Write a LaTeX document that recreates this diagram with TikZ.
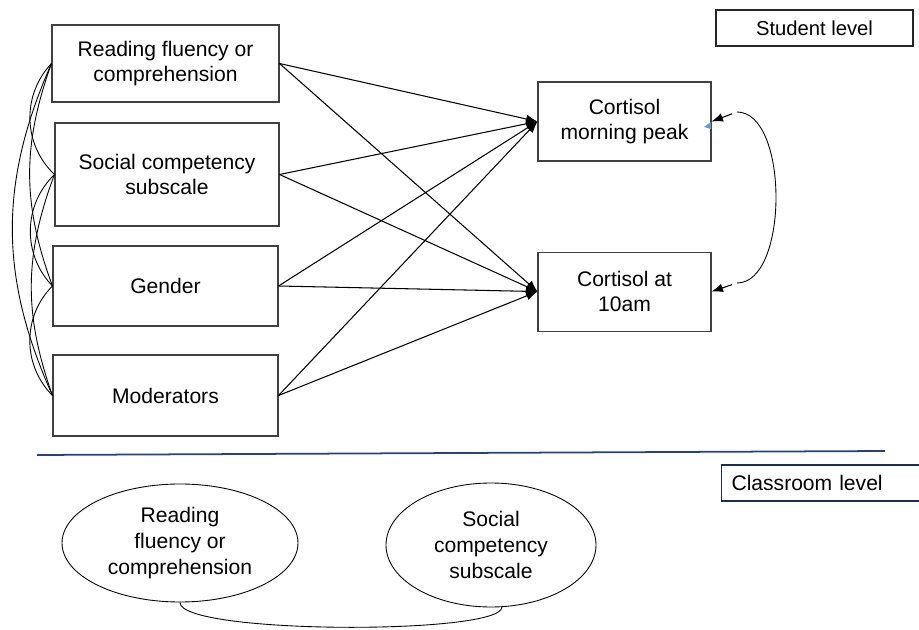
\documentclass[tikz,border=0pt]{standalone}
\usepackage{fontspec}
\setmainfont{Liberation Sans}
\usetikzlibrary{arrows.meta, shapes.geometric, positioning}

\begin{document}
\begin{tikzpicture}[>={Latex[length=6.5pt,width=5pt]}]

\definecolor{levelblue}{RGB}{38, 64, 128}
\definecolor{tickblue}{RGB}{91, 155, 213}

\useasboundingbox (0,0) rectangle (18.38,12.58);

\tikzset{
    measured/.style={
        draw=black!75, line width=0.6pt, rectangle, inner sep=2pt,
        align=center, font=\fontsize{12}{14.6}\selectfont
    },
    latent/.style={
        draw=black, line width=0.5pt, ellipse, inner sep=0pt,
        align=center, font=\fontsize{12}{14.8}\selectfont
    },
    levelbox/.style={
        draw=black!85, line width=0.6pt, rectangle,
        minimum height=0.72cm, font=\fontsize{11.5}{13}\selectfont
    },
    effect/.style={
        draw=black, line width=0.6pt, ->
    },
    covar/.style={
        draw=black, line width=0.5pt
    }
}

% --- STUDENT LEVEL ---
\node[levelbox, minimum width=3.94cm] (Student) at (16.29, 12.02) {Student level};

% Predictors (left column)
\node[measured, minimum width=4.54cm, minimum height=1.54cm] (Read) at (3.31, 11.31) {Reading fluency or\\comprehension};
\node[measured, minimum width=4.48cm, minimum height=2.06cm] (Social) at (3.34, 9.09) {Social competency\\subscale};
\node[measured, minimum width=4.50cm, minimum height=1.60cm] (Gender) at (3.31, 6.86) {Gender};
\node[measured, minimum width=4.50cm, minimum height=1.62cm] (Mod) at (3.31, 4.67) {Moderators};

% Outcomes (right column)
\node[measured, minimum width=3.46cm, minimum height=1.58cm] (CortPeak) at (12.49, 10.15) {Cortisol\\morning peak};
\node[measured, minimum width=3.46cm, minimum height=1.58cm, below=1.80cm of CortPeak] (Cort10) {Cortisol at\\10am};

% Paths from every predictor to both outcomes
\foreach \src in {Read, Social, Gender, Mod}
    \foreach \dst in {CortPeak, Cort10}
        \draw[effect] (\src.east) -- (\dst.west);

% Correlations among predictors
\foreach \a/\b/\bend in {Read/Social/45, Social/Gender/45, Gender/Mod/45, Read/Gender/20, Social/Mod/20, Read/Mod/24}
    \draw[covar] (\a.west) to[bend right=\bend] (\b.west);

% Residual correlation of the outcomes
\coordinate (k1) at (14.74, 10.34);
\coordinate (k2) at (14.74, 6.92);
\draw[covar] (k1) .. controls (15.78, 10.34) and (15.78, 6.92) .. (k2);
\draw[effect, shorten <=3pt] (k1) -- (CortPeak.east);
\draw[effect, shorten <=3pt] (k2) -- (Cort10.east);
\fill[tickblue] (14.22, 10.14) -- (14.22, 10.00) -- (14.08, 10.04) -- cycle;

% --- LEVEL SEPARATOR ---
\coordinate (sepL) at (0.74, 3.48);
\coordinate (sepR) at (17.70, 3.56);
\draw[levelblue, line width=1pt] (sepL) -- (sepR);

% --- CLASSROOM LEVEL ---
\node[levelbox, draw=levelblue!70!black, anchor=west, text width=3.8cm, inner xsep=0.2cm, align=left, font=\fontsize{12}{14}\selectfont] (Classroom) at (14.42, 2.92) {Classroom level};

\node[latent, minimum width=4.72cm, minimum height=2.36cm] (ReadC) at (3.60, 1.72) {Reading\\fluency or\\comprehension};
\node[latent, minimum width=4.20cm, minimum height=2.48cm] (SocialC) at (9.82, 1.68) {Social\\competency\\subscale};

\draw[covar] (ReadC.south) .. controls +(0,-0.64) and +(0,-0.56) .. (SocialC.280);

\end{tikzpicture}
\end{document}
